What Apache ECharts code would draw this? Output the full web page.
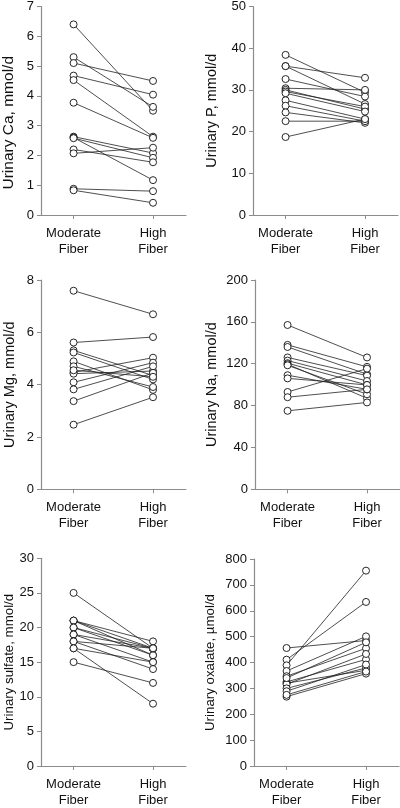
<!DOCTYPE html>
<html>
<head>
<meta charset="utf-8">
<script src="https://cdn.jsdelivr.net/npm/echarts@6/dist/echarts.min.js"></script>
<style>
html,body{margin:0;padding:0;background:#fff;}
#chart{width:400px;height:808px;}
</style>
</head>
<body>
<div id="chart"></div>
<script>
// Categories (x positions 0 and 1 on each panel)
const categories = ['Moderate\nFiber', 'High\nFiber'];

// Paired values: index i in "Moderate" pairs with index i in "High"
const caModerate = [6.4, 5.3, 5.1, 4.68, 4.53, 3.77, 2.63, 2.6, 2.58, 2.2, 2.07, 0.88, 0.83];
const caHigh     = [3.5, 3.63, 4.5, 4.04, 2.63, 2.59, 2.08, 1.17, 1.92, 1.77, 2.26, 0.8, 0.41];

const pModerate = [38.4, 35.7, 35.7, 32.6, 30.4, 30.0, 29.6, 29.2, 27.5, 26.2, 24.6, 22.5, 18.7];
const pHigh     = [29.4, 32.9, 26.6, 28.4, 30.0, 25.4, 26.0, 24.8, 23.0, 22.5, 22.1, 22.5, 23.0];

const mgModerate = [7.59, 5.61, 5.31, 5.23, 4.89, 4.70, 4.47, 4.42, 4.09, 3.82, 3.37, 2.47, 4.55];
const mgHigh     = [6.69, 5.82, 4.35, 4.20, 3.80, 3.91, 5.03, 4.52, 4.84, 4.70, 4.45, 3.52, 4.30];

const naModerate = [157, 138, 136, 126, 123, 120.5, 119.5, 118.5, 109, 106, 93, 88, 75];
const naHigh     = [126, 117, 110, 108.6, 103.5, 99.7, 87, 90.8, 95.5, 99.7, 115.3, 95.5, 83];

const sulfModerate = [25, 21, 21, 21, 20, 20, 19, 19, 18, 18, 17, 17, 15];
const sulfHigh     = [17, 18, 17, 16, 17, 16, 17, 15, 14, 17, 9, 15, 12];

const oxModerate = [456, 411, 389, 367, 347, 325, 320, 316, 300, 289, 268, 275, 340];
const oxHigh     = [485, 634, 755, 501, 455, 412, 370, 433, 379, 392, 357, 365, 478];

// Axis ticks
const yMax      = [7, 50, 8, 200, 30, 800];
const yInterval = [1, 10, 2, 40, 5, 100];
const yNames = ['Urinary Ca, mmol/d', 'Urinary P, mmol/d', 'Urinary Mg, mmol/d',
                'Urinary Na, mmol/d', 'Urinary sulfate, mmol/d', 'Urinary oxalate, \u00b5mol/d'];

const moderateSets = [caModerate, pModerate, mgModerate, naModerate, sulfModerate, oxModerate];
const highSets = [caHigh, pHigh, mgHigh, naHigh, sulfHigh, oxHigh];

// Layout
const layout = [
  {left: 41,  top: 5,     height: 210,   gap: 24, nameSize: 15.5, namePad: [0, 24, 0, 0]},
  {left: 253, top: 5,     height: 210,   gap: 34, nameSize: 14.5, namePad: 0},
  {left: 41,  top: 280,   height: 209.3, gap: 24, nameSize: 14.5, namePad: 0},
  {left: 255, top: 280,   height: 209.3, gap: 36, nameSize: 14.5, namePad: 0},
  {left: 41,  top: 558.3, height: 210,   gap: 25, nameSize: 13.3, namePad: 0},
  {left: 254, top: 559,   height: 209.3, gap: 37, nameSize: 13.3, namePad: 0}
];

const FONT = 'Liberation Sans, Arial, sans-serif';
const axisColor = '#8c8c8c';

const grids = [], xAxes = [], yAxes = [], series = [];
layout.forEach((g, p) => {
  grids.push({left: g.left, top: g.top, width: 145, height: g.height, containLabel: false});
  xAxes.push({
    type: 'value', gridIndex: p, min: -0.41, max: 1.415,
    splitLine: {show: false},
    axisLine: {show: true, onZero: false, lineStyle: {color: axisColor, width: 1.2}},
    axisTick: {show: true, customValues: [0, 1], length: 4, inside: false, lineStyle: {color: axisColor}},
    axisLabel: {
      customValues: [0, 1], margin: 10, color: '#111', fontSize: 13, fontFamily: FONT, lineHeight: 16,
      formatter: v => categories[Math.round(v)]
    }
  });
  yAxes.push({
    type: 'value', gridIndex: p, min: 0, max: yMax[p], interval: yInterval[p],
    name: yNames[p], nameLocation: 'middle', nameGap: g.gap, nameRotate: 90,
    nameTextStyle: {color: '#111', fontSize: g.nameSize, fontFamily: FONT, padding: g.namePad},
    splitLine: {show: false},
    axisLine: {show: true, onZero: false, lineStyle: {color: axisColor, width: 1.2}},
    axisTick: {show: true, length: 4, lineStyle: {color: axisColor}},
    axisLabel: {margin: 7, color: '#111', fontSize: 13, fontFamily: FONT}
  });
  const mod = moderateSets[p], hi = highSets[p];
  for (let i = 0; i < mod.length; i++) {
    series.push({
      type: 'line', xAxisIndex: p, yAxisIndex: p,
      data: [[0, mod[i]], [1, hi[i]]],
      symbol: 'circle', symbolSize: 7, showSymbol: true,
      itemStyle: {color: '#fff', borderColor: '#111', borderWidth: 0.9},
      lineStyle: {color: '#222', width: 0.8},
      silent: true, animation: false, z: 2
    });
  }
});

const chart = echarts.init(document.getElementById('chart'), null, {renderer: 'canvas'});
chart.setOption({
  animation: false,
  backgroundColor: '#fff',
  grid: grids, xAxis: xAxes, yAxis: yAxes, series: series
});
</script>
</body>
</html>
